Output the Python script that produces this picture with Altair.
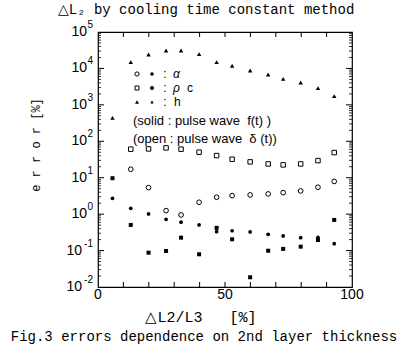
import altair as alt
import pandas as pd

# ---------------- values ----------------
x_percent = [5.7, 12.9, 19.9, 26.8, 32.7, 39.8, 46.7, 52.8, 59.9, 67.0, 72.9, 79.8, 86.6, 93.0]
h_err = [440, 14900, 24100, 31000, 31000, 24700, 14900, 11800, 8750, 6800, 5180, 4100, 2880, 1730]
rhoc_open_err = [60.7, 61.8, 65.9, 60.7, 50.2, 40.5, 32.2, 27.2, 23.9, 22.5, 23.9, 29.5, 49.0]
alpha_open_err = [17.1, 5.35, 1.25, 0.95, 2.12, 2.91, 3.22, 3.37, 3.59, 3.90, 4.34, 5.48, 7.91]
alpha_solid_err = [2.73, 1.45, 1.01, 0.72, 0.60, 0.505, 0.33, 0.35, 0.324, 0.28, 0.252, 0.226, 0.23, 0.155]
rhoc_solid_err = [9.7, 0.505, 0.0875, 0.0975, 0.226, 0.079, 0.42, 0.204, 0.0185, 0.099, 0.111, 0.128, 0.195, 0.693]

y_decade_exponents = [-2, -1, 0, 1, 2, 3, 4, 5]
x_tick_values = [10, 20, 30, 40, 50, 60, 70, 80, 90]
x_label_values = [0, 50, 100]
x_label_texts = ["0", "50", "100"]

NB = "\u00a0"
title_text = "△L₂ by cooling time constant method"
x_title_text = "△L2/L3" + NB * 3 + "[%]"
y_title_text = "e r r o r [%]"
caption_text = "Fig.3 errors dependence on 2nd layer thickness"
legend_note_1 = "(solid : pulse wave" + NB * 2 + "f(t) )"
legend_note_2 = "(open : pulse wave" + NB * 2 + "δ (t))"

# ---------------- layout ----------------
W, H = 254, 255
PAD = {"left": 98, "top": 32, "right": 48, "bottom": 67}
MONO = "Liberation Mono"
SANS = "Liberation Sans"

xs = alt.Scale(domain=[0, 100], nice=False, zero=False)
ys = alt.Scale(type="log", domain=[0.01, 100000], nice=False)


def X(field):
    return alt.X(f"{field}:Q", scale=xs, axis=None)


def Y(field):
    return alt.Y(f"{field}:Q", scale=ys, axis=None)


def points(xv, yv, shape, filled, size):
    df = pd.DataFrame({"x": xv, "y": yv})
    return alt.Chart(df).mark_point(
        shape=shape, filled=filled, size=size, color="black",
        strokeWidth=1, opacity=1, fillOpacity=1
    ).encode(x=X("x"), y=Y("y"))


layers = []

# ---- ticks (inward) ----
xt = pd.DataFrame({"t": x_tick_values})
layers.append(alt.Chart(xt).mark_rule(color="black", strokeWidth=1).encode(
    x=X("t"), y=alt.value(H), y2=alt.value(H - 5)))
layers.append(alt.Chart(xt).mark_rule(color="black", strokeWidth=1).encode(
    x=X("t"), y=alt.value(0), y2=alt.value(5)))

major_vals = [10.0 ** e for e in y_decade_exponents[1:-1]]
minor_vals = [k * 10.0 ** e for e in y_decade_exponents[:-1] for k in range(2, 10)]
ymaj = pd.DataFrame({"v": major_vals})
ymin = pd.DataFrame({"v": minor_vals})
for x0, x1, x2 in [(0, 6, 3), (W, W - 6, W - 3)]:
    layers.append(alt.Chart(ymaj).mark_rule(color="black", strokeWidth=1).encode(
        y=Y("v"), x=alt.value(x0), x2=alt.value(x1)))
    layers.append(alt.Chart(ymin).mark_rule(color="black", strokeWidth=0.8).encode(
        y=Y("v"), x=alt.value(x0), x2=alt.value(x2)))

# ---- data points ----
layers.append(points(x_percent, h_err, "triangle-up", True, 20))
layers.append(points(x_percent[1:], rhoc_open_err, "square", False, 20))
layers.append(points(x_percent[1:], alpha_open_err, "circle", False, 22))
layers.append(points(x_percent, alpha_solid_err, "circle", True, 14))
layers.append(points(x_percent, rhoc_solid_err, "square", True, 16))

# ---- y tick labels 10^n ----
ydf = pd.DataFrame({"e": y_decade_exponents})
ydf["v"] = [10.0 ** e for e in y_decade_exponents]
ydf["base"] = "10"
ydf["exp"] = [str(e) for e in y_decade_exponents]
pos = ydf[ydf["e"] >= 0]
neg = ydf[ydf["e"] < 0]
layers.append(alt.Chart(pos).mark_text(align="right", baseline="middle", dx=-11, fontSize=14, font=SANS).encode(
    y=Y("v"), x=alt.value(0), text="base:N"))
layers.append(alt.Chart(neg).mark_text(align="right", baseline="middle", dx=-16, fontSize=14, font=SANS).encode(
    y=Y("v"), x=alt.value(0), text="base:N"))
layers.append(alt.Chart(ydf).mark_text(align="right", baseline="middle", dx=-5, dy=-7, fontSize=10, font=SANS).encode(
    y=Y("v"), x=alt.value(0), text="exp:N"))

# ---- x tick labels ----
xl = pd.DataFrame({"t": x_label_values, "lab": x_label_texts})
layers.append(alt.Chart(xl).mark_text(align="center", baseline="middle", fontSize=14, font=SANS).encode(
    x=X("t"), y=alt.value(H + 8), text="lab:N"))

# ---- in-plot legend ----
one = pd.DataFrame({"a": [0]})


def key(px, py, shape, filled, size):
    return alt.Chart(one).mark_point(shape=shape, filled=filled, size=size, color="black",
                                      strokeWidth=1, opacity=1).encode(x=alt.value(px), y=alt.value(py))


def label(px, py, txt, size=13, style="normal", align="left", font=SANS):
    return alt.Chart(one).mark_text(align=align, baseline="middle", fontSize=size, fontStyle=style,
                                     font=font, color="black").encode(
        x=alt.value(px), y=alt.value(py), text=alt.value(txt))


rows_y = [42, 56, 70]
layers += [
    key(39, rows_y[0], "circle", False, 18), key(54, rows_y[0], "circle", True, 12),
    key(39, rows_y[1], "square", False, 16), key(54, rows_y[1], "square", True, 12),
    key(39, rows_y[2], "triangle-up", True, 16), key(54, rows_y[2], "triangle-up", True, 12),
]
for ry in rows_y:
    layers.append(label(67, ry, ":", size=12, align="center"))
layers.append(label(75, rows_y[0], "α", size=12, style="italic"))
layers.append(label(75, rows_y[1], "ρ", size=12, style="italic"))
layers.append(label(89, rows_y[1], "c", size=12))
layers.append(label(76, rows_y[2], "h", size=12))
layers.append(label(35, 89, legend_note_1))
layers.append(label(35, 107, legend_note_2))

# ---- titles ----
layers.append(label(108, -22, title_text, size=14, align="center", font=MONO))
layers.append(label(103, 285, x_title_text, size=15, align="center", font=MONO))
layers.append(label(106, 305, caption_text, size=14, align="center", font=MONO))
layers.append(alt.Chart(one).mark_text(align="center", baseline="middle", fontSize=12, font=MONO,
                                       angle=270, color="black").encode(
    x=alt.value(-62), y=alt.value(113), text=alt.value(y_title_text)))

chart = alt.layer(*layers).properties(
    width=W, height=H,
    autosize=alt.AutoSizeParams(type="none"),
    padding=PAD,
    background="white",
).configure_view(stroke="black", strokeWidth=1.2)

chart.save("out.html", embed_options={"renderer": "svg", "actions": False})
